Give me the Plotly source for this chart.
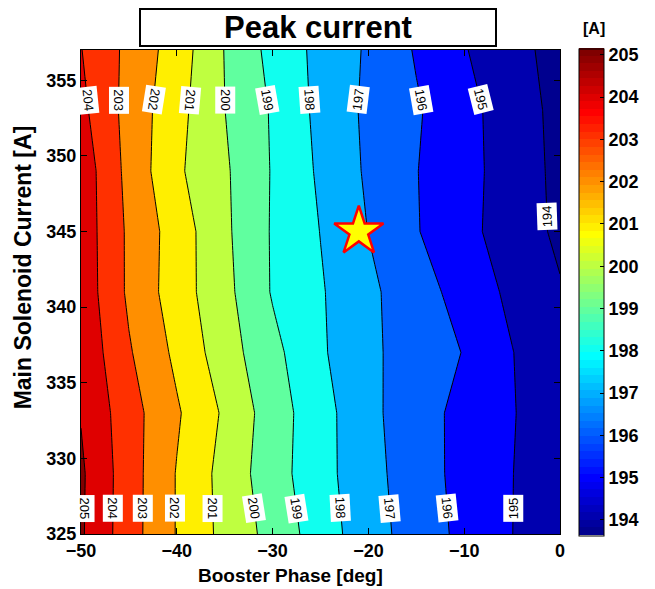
import numpy as np
import plotly.graph_objects as go

# Scan grid: booster phase [deg] x main solenoid current [A]
phase = [-50, -45, -40, -35, -30, -25, -20, -15, -10, -5, 0]
solenoid = [325, 329, 333, 337, 341, 345, 349, 353, 357]

# Peak current [A]; one row per solenoid setting, one column per phase
peak_current = [
    [205.12, 203.43, 201.95, 200.71, 199.67, 198.49, 197.43, 196.55, 195.75, 195.01, 194.29],
    [205.15, 203.45, 201.95, 200.65, 199.44, 198.35, 197.35, 196.45, 195.69, 195.02, 194.31],
    [204.95, 203.41, 202.12, 200.85, 199.49, 198.38, 197.26, 196.41, 195.71, 195.06, 194.36],
    [204.77, 203.10, 201.78, 200.46, 199.28, 198.14, 197.20, 196.55, 195.96, 195.03, 194.20],
    [204.63, 202.83, 201.49, 200.29, 198.92, 198.09, 197.21, 196.42, 195.62, 194.78, 194.08],
    [204.59, 202.83, 201.54, 200.19, 198.91, 197.98, 196.98, 196.06, 195.28, 194.54, 193.81],
    [204.60, 202.70, 201.17, 200.14, 198.93, 197.84, 196.85, 196.03, 195.32, 194.56, 193.75],
    [204.25, 202.65, 201.33, 200.01, 198.90, 197.73, 196.80, 196.11, 195.31, 194.51, 193.71],
    [204.03, 202.75, 201.53, 199.97, 198.69, 197.72, 196.87, 195.91, 195.06, 194.34, 193.63],
]

levels = list(range(194, 206))
top_labels = [204, 203, 202, 201, 200, 199, 198, 197, 196, 195]
bottom_labels = [205, 204, 203, 202, 201, 200, 199, 198, 197, 196, 195]
side_labels = [194]

# working point
op_phase = [-21]
op_solenoid = [345]

x_ticks = [-50, -40, -30, -20, -10, 0]
y_ticks = [325, 330, 335, 340, 345, 350, 355]

# ---------------------------------------------------------------------------
z = np.array(peak_current)
cmin, cmax = float(z.min()), float(z.max())
NCOL = 64


def jet_u(k):
    # ramp / plateau / ramp profile of the classic 64-entry jet map (k is 1-based)
    n = NCOL // 4
    if k <= n:
        return k / n
    if k < 2 * n:
        return 1.0
    return (3 * n - k) / n


def jet64(i):
    # i is the 1-based row of a 64-colour jet map
    r = jet_u(i - 24) if 25 <= i <= 64 else 0.0
    g = jet_u(i - 8) if 9 <= i <= 55 else 0.0
    b = jet_u(i + 8) if 1 <= i <= 39 else 0.0
    return "rgb(%d,%d,%d)" % (round(255 * r), round(255 * g), round(255 * b))


def colour_of(v):
    i = int(np.floor((v - cmin) / (cmax - cmin) * NCOL)) + 1
    return jet64(min(max(i, 1), NCOL))


# each filled band takes the colour of its lower contour level
band_lower = [cmin] + levels
nb = len(band_lower) - 1
band_scale = [[k / nb, colour_of(v)] for k, v in enumerate(band_lower)]

# stepped 64-colour bar
bar_scale = []
for i in range(NCOL):
    c = jet64(i + 1)
    bar_scale.append([i / NCOL, c])
    bar_scale.append([(i + 1) / NCOL, c])

FONT = "Liberation Sans, Arial, sans-serif"

fig = go.Figure()

fig.add_trace(go.Contour(
    x=phase, y=solenoid, z=peak_current,
    autocontour=False,
    contours=dict(start=levels[0], end=levels[-1], size=1, coloring="fill", showlabels=False),
    colorscale=band_scale,
    showscale=False,
    line=dict(color="black", width=1, smoothing=0),
    hoverinfo="skip",
))

# colour bar
fig.add_trace(go.Scatter(
    x=[phase[0], phase[0]], y=[solenoid[0], solenoid[0]],
    mode="markers",
    marker=dict(
        size=1, opacity=0, color=[cmin, cmax], cmin=cmin, cmax=cmax,
        colorscale=bar_scale, showscale=True,
        colorbar=dict(
            x=1.039, xanchor="left", y=0.5, yanchor="middle",
            len=1.006, lenmode="fraction", thickness=25, thicknessmode="pixels",
            xpad=0, ypad=0, outlinewidth=1, outlinecolor="black",
            tickvals=levels, ticks="inside", ticklen=4, tickcolor="black",
            tickfont=dict(family=FONT, size=18, color="black", weight="bold"),
        ),
    ),
    hoverinfo="skip", showlegend=False,
))

fig.add_trace(go.Scatter(
    x=op_phase, y=op_solenoid, mode="markers",
    marker=dict(symbol="star", size=37, color="#FFFF00", line=dict(color="#FF0000", width=2.5)),
    hoverinfo="skip", showlegend=False,
))


def level_x(level, yv):
    row = np.array([np.interp(yv, solenoid, z[:, j]) for j in range(len(phase))])
    return float(np.interp(level, row[::-1], np.array(phase, dtype=float)[::-1]))


annotations = []
label_font = dict(family=FONT, size=13, color="black")

top_angles = [84, 90, 99, 95, 90, 80, 86, -83, 80, 76]
for lv, ang in zip(top_labels, top_angles):
    annotations.append(dict(x=level_x(lv, 353.7), y=353.7, xref="x", yref="y", text=str(lv),
                            showarrow=False, textangle=ang, font=label_font,
                            bgcolor="white", borderpad=2))

bottom_angles = [90, 90, 90, 90, 90, 81, 81, 87, 85, 84, -90]
for lv, ang in zip(bottom_labels, bottom_angles):
    annotations.append(dict(x=level_x(lv, 326.7), y=326.7, xref="x", yref="y", text=str(lv),
                            showarrow=False, textangle=ang, font=label_font,
                            bgcolor="white", borderpad=2))

for lv in side_labels:
    annotations.append(dict(x=level_x(lv, 346.0), y=346.0, xref="x", yref="y", text=str(lv),
                            showarrow=False, textangle=-92, font=label_font,
                            bgcolor="white", borderpad=2))

# title box
annotations.append(dict(x=0.4938, y=1.0475, xref="paper", yref="paper", xanchor="center", yanchor="middle",
                        text="Peak current", showarrow=False, width=352, height=33,
                        font=dict(family=FONT, size=31, color="black", weight="bold"),
                        bgcolor="white", bordercolor="black", borderwidth=2, borderpad=1))
# colour bar unit
annotations.append(dict(x=1.07, y=1.045, xref="paper", yref="paper", xanchor="center", yanchor="middle",
                        text="[A]", showarrow=False,
                        font=dict(family=FONT, size=16, color="black", weight="bold")))
# axis titles
annotations.append(dict(x=0.438, y=-0.085, xref="paper", yref="paper", xanchor="center", yanchor="middle",
                        text="Booster Phase [deg]", showarrow=False,
                        font=dict(family=FONT, size=19, color="black", weight="bold")))
annotations.append(dict(x=-0.122, y=0.55, xref="paper", yref="paper", xanchor="center", yanchor="middle",
                        text="Main Solenoid Current [A]", showarrow=False, textangle=-90,
                        font=dict(family=FONT, size=23, color="black", weight="bold")))

axis_common = dict(
    showgrid=False, zeroline=False, showline=True, linecolor="black", linewidth=1,
    mirror="ticks", ticks="inside", ticklen=6, tickcolor="black",
    tickfont=dict(family=FONT, size=18, color="black", weight="bold"),
)

fig.update_layout(
    width=655, height=589,
    margin=dict(l=81, r=90, t=50, b=55),
    paper_bgcolor="white", plot_bgcolor="white",
    font=dict(family=FONT, color="black"),
    xaxis=dict(range=[phase[0], phase[-1]], tickvals=x_ticks, **axis_common),
    yaxis=dict(range=[solenoid[0], solenoid[-1]], tickvals=y_ticks, **axis_common),
    annotations=annotations,
    showlegend=False,
)

fig.write_html("out.html")
